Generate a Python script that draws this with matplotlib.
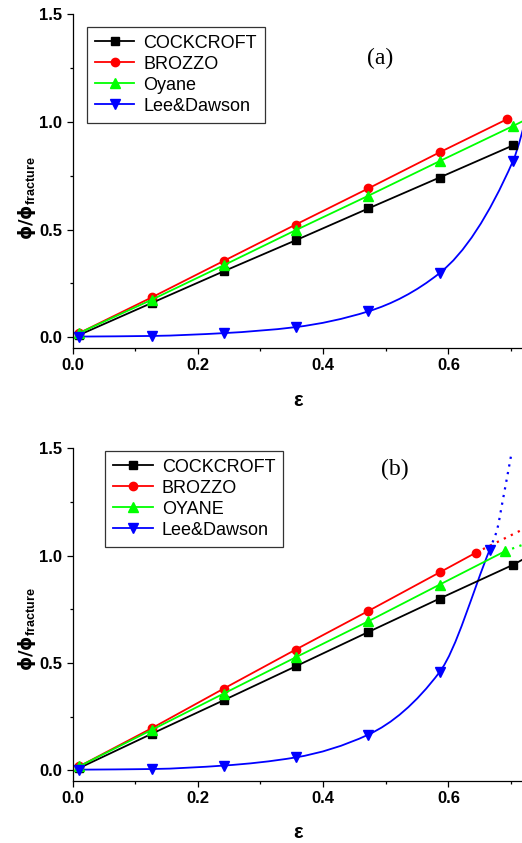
import matplotlib
matplotlib.use('Agg')
import matplotlib.pyplot as plt
import numpy as np
from matplotlib.path import Path
from matplotlib.patches import PathPatch
from matplotlib.lines import Line2D
from matplotlib.ticker import MultipleLocator, FormatStrFormatter

plt.rcParams['font.family'] = ['Liberation Sans', 'DejaVu Sans']
plt.rcParams['mathtext.fontset'] = 'custom'
plt.rcParams['mathtext.rm'] = 'Liberation Sans'
plt.rcParams['mathtext.bf'] = 'DejaVu Sans:bold'
plt.rcParams['mathtext.sf'] = 'Liberation Sans:bold'

# strain values
eps = [0.011, 0.127, 0.241, 0.356, 0.472, 0.586, 0.703]

# (a) damage ratio
cock_a = [0.011, 0.160, 0.306, 0.450, 0.598, 0.742, 0.891]
brozzo_a_x = [0.011, 0.127, 0.241, 0.356, 0.472, 0.586, 0.693]
brozzo_a = [0.020, 0.186, 0.354, 0.523, 0.691, 0.859, 1.012]
oyane_a_x = [0.011, 0.127, 0.241, 0.356, 0.472, 0.586, 0.703, 0.73]
oyane_a = [0.020, 0.175, 0.334, 0.497, 0.657, 0.818, 0.981, 1.02]
lee_a_x = [0.011, 0.127, 0.241, 0.356, 0.472, 0.586, 0.703, 0.73]
lee_a = [0.003, 0.006, 0.019, 0.047, 0.120, 0.298, 0.818, 1.08]

# (b) damage ratio
cock_b_x = [0.011, 0.127, 0.241, 0.356, 0.472, 0.586, 0.703, 0.73]
cock_b = [0.011, 0.171, 0.326, 0.484, 0.644, 0.800, 0.957, 1.00]
brozzo_b_x = [0.011, 0.127, 0.241, 0.356, 0.472, 0.586, 0.644]
brozzo_b = [0.019, 0.197, 0.380, 0.562, 0.742, 0.922, 1.014]
oyane_b_x = [0.011, 0.127, 0.241, 0.356, 0.472, 0.586, 0.690]
oyane_b = [0.019, 0.189, 0.357, 0.526, 0.694, 0.865, 1.020]
lee_b_x = [0.011, 0.127, 0.241, 0.356, 0.472, 0.586, 0.666]
lee_b = [0.003, 0.006, 0.022, 0.060, 0.166, 0.458, 1.028]

# (b) dotted extrapolations
brozzo_ext_x = [0.644, 0.72]
brozzo_ext = [1.014, 1.124]
oyane_ext_x = [0.690, 0.72]
oyane_ext = [1.020, 1.052]
lee_ext_x = [0.666, 0.678, 0.686, 0.693, 0.701]
lee_ext = [1.028, 1.124, 1.245, 1.354, 1.481]


def smooth_path(x, y):
    # monotone cubic through the points, drawn as bezier segments
    x = np.asarray(x, float)
    y = np.asarray(y, float)
    h = np.diff(x)
    d = np.diff(y) / h
    m = np.zeros_like(y)
    m[0], m[-1] = d[0], d[-1]
    for k in range(1, len(x) - 1):
        if d[k - 1] * d[k] > 0:
            w1 = 2 * h[k] + h[k - 1]
            w2 = h[k] + 2 * h[k - 1]
            m[k] = (w1 + w2) / (w1 / d[k - 1] + w2 / d[k])
    verts = [(x[0], y[0])]
    codes = [Path.MOVETO]
    for k in range(len(x) - 1):
        verts += [(x[k] + h[k] / 3, y[k] + m[k] * h[k] / 3),
                  (x[k + 1] - h[k] / 3, y[k + 1] - m[k + 1] * h[k] / 3),
                  (x[k + 1], y[k + 1])]
        codes += [Path.CURVE4] * 3
    return Path(verts, codes)


def setup(ax):
    ax.set_xlim(0, 0.72)
    ax.set_ylim(-0.05, 1.5)
    ax.spines['top'].set_visible(False)
    ax.spines['right'].set_visible(False)
    for s in ['left', 'bottom']:
        ax.spines[s].set_linewidth(0.9)
    ax.xaxis.set_major_locator(MultipleLocator(0.2))
    ax.xaxis.set_minor_locator(MultipleLocator(0.1))
    ax.yaxis.set_major_locator(MultipleLocator(0.5))
    ax.yaxis.set_minor_locator(MultipleLocator(0.25))
    ax.xaxis.set_major_formatter(FormatStrFormatter('%.1f'))
    ax.yaxis.set_major_formatter(FormatStrFormatter('%.1f'))
    ax.tick_params(which='major', direction='out', length=4.5, width=0.9,
                   labelsize=12, pad=3)
    ax.tick_params(which='minor', direction='out', length=2.5, width=0.9)
    for lab in ax.get_xticklabels() + ax.get_yticklabels():
        lab.set_fontweight('bold')
    ax.set_xlabel('ε', fontsize=14.5, fontweight='bold')
    ax.xaxis.set_label_coords(0.5, -0.156)
    ax.xaxis.label.set_va('center')
    ax.set_ylabel(r'$\mathbf{ϕ/ϕ}_{\mathsf{fracture}}$', fontsize=13)
    ax.yaxis.label.set_va('center')


lw = 1.3
ms = 5.5

fig = plt.figure(figsize=(5.22, 8.43), dpi=100)
ax1 = fig.add_axes([0.139, 0.5872, 0.864, 0.3958])
ax2 = fig.add_axes([0.139, 0.0735, 0.864, 0.3947])

# ---- panel (a)
ax1.plot(eps, cock_a, '-s', color='black', lw=lw, ms=ms)
ax1.plot(brozzo_a_x, brozzo_a, '-o', color='red', lw=lw, ms=ms + 0.5)
ax1.plot(oyane_a_x, oyane_a, '-^', color='#00ff00', lw=lw, ms=ms + 1)
ax1.add_patch(PathPatch(smooth_path(lee_a_x, lee_a), fill=False,
                        edgecolor='blue', lw=lw))
ax1.plot(lee_a_x, lee_a, 'v', color='blue', ms=ms + 1)
setup(ax1)
ax1.yaxis.set_label_coords(-0.10, 0.45)
ax1.text(0.681, 0.869, '(a)', transform=ax1.transAxes, fontsize=17,
         family='Liberation Serif', ha='center', va='center')

# ---- panel (b)
ax2.plot(cock_b_x, cock_b, '-s', color='black', lw=lw, ms=ms)
ax2.plot(brozzo_b_x, brozzo_b, '-o', color='red', lw=lw, ms=ms + 0.5)
ax2.plot(oyane_b_x, oyane_b, '-^', color='#00ff00', lw=lw, ms=ms + 1)
ax2.plot(brozzo_ext_x, brozzo_ext, color='red', lw=1.6, ls=(0, (1, 2.5)))
ax2.plot(oyane_ext_x, oyane_ext, color='#00ff00', lw=1.6, ls=(0, (1, 2.5)))
ax2.add_patch(PathPatch(smooth_path(lee_ext_x, lee_ext), fill=False,
                        edgecolor='blue', lw=1.6, ls=(0, (1, 2.5))))
ax2.add_patch(PathPatch(smooth_path(lee_b_x, lee_b), fill=False,
                        edgecolor='blue', lw=lw))
ax2.plot(lee_b_x, lee_b, 'v', color='blue', ms=ms + 1)
setup(ax2)
ax2.yaxis.set_label_coords(-0.10, 0.457)
ax2.text(0.715, 0.935, '(b)', transform=ax2.transAxes, fontsize=17,
         family='Liberation Serif', ha='center', va='center')


def handles(names):
    specs = [('black', 's', ms), ('red', 'o', ms + 0.5),
             ('#00ff00', '^', ms + 1), ('blue', 'v', ms + 1)]
    return [Line2D([], [], color=c, marker=mk, ms=s, lw=lw, label=n)
            for (c, mk, s), n in zip(specs, names)]


for ax, names, anchor in [
        (ax1, ['COCKCROFT', 'BROZZO', 'Oyane', 'Lee&Dawson'], (0.031, 0.963)),
        (ax2, ['COCKCROFT', 'BROZZO', 'OYANE', 'Lee&Dawson'], (0.0716, 0.993))]:
    leg = ax.legend(handles=handles(names), loc='upper left',
                    bbox_to_anchor=anchor, borderaxespad=0, fontsize=13,
                    fancybox=False, framealpha=1, edgecolor='#333333',
                    handlelength=2.2, handletextpad=0.5, labelspacing=0.22,
                    borderpad=0.45)
    leg.get_frame().set_linewidth(0.9)

fig.savefig('out.png', dpi=100)
